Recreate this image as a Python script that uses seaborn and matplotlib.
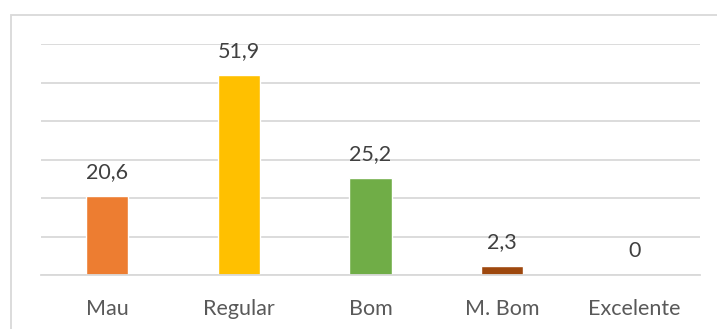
import seaborn as sns
import pandas as pd
import matplotlib.pyplot as plt
from matplotlib.patches import Rectangle

categories = ["Mau", "Regular", "Bom", "M. Bom", "Excelente"]
values = [20.6, 51.9, 25.2, 2.3, 0]
bar_colors = ["#ED7D31", "#FFC000", "#70AD47", "#9E480E", "#4472C4"]

df = pd.DataFrame({"categoria": categories, "valor": values})

sns.set_style("white")
plt.rcParams["font.family"] = ["Lato", "DejaVu Sans"]
text_color = "#595959"
grid_color = "#D9D9D9"

fig = plt.figure(figsize=(7.17, 3.29), dpi=100)
ax = fig.add_axes([0.0572, 0.1641, 0.9191, 0.7021])

sns.barplot(data=df, x="categoria", y="valor", hue="categoria",
            palette=bar_colors, width=0.32, legend=False, ax=ax,
            saturation=1)

# data labels with comma decimal
for cont in ax.containers:
    labels = [f"{v:g}".replace(".", ",") for v in cont.datavalues]
    ax.bar_label(cont, labels=labels, padding=10, fontsize=15.5,
                 color="#404040")

ax.set_ylim(0, 60)
ax.set_xlim(-0.5, 4.5)
ax.set_yticks(range(0, 70, 10))
ax.yaxis.grid(True, color=grid_color, linewidth=1.3)
ax.set_axisbelow(True)
ax.tick_params(axis="y", left=False, labelleft=False)
ax.set_xlabel("")
ax.set_ylabel("")

# tick marks between categories
ax.set_xticks([i - 0.5 for i in range(6)], minor=True)
ax.tick_params(axis="x", which="minor", length=6, width=1.3,
               color=grid_color, direction="out")
ax.tick_params(axis="x", which="major", length=0, pad=17,
               labelsize=15.5, labelcolor=text_color)

for side in ["top", "right", "left"]:
    ax.spines[side].set_visible(False)
ax.spines["bottom"].set_color(grid_color)
ax.spines["bottom"].set_linewidth(1.3)

# chart area border (cropped on right and bottom)
fig.patches.append(Rectangle((11 / 717, -0.2), 1.2, 1.2 - 15 / 329,
                             transform=fig.transFigure, fill=False,
                             edgecolor=grid_color, linewidth=1.3))

plt.savefig("out.png", dpi=100)
